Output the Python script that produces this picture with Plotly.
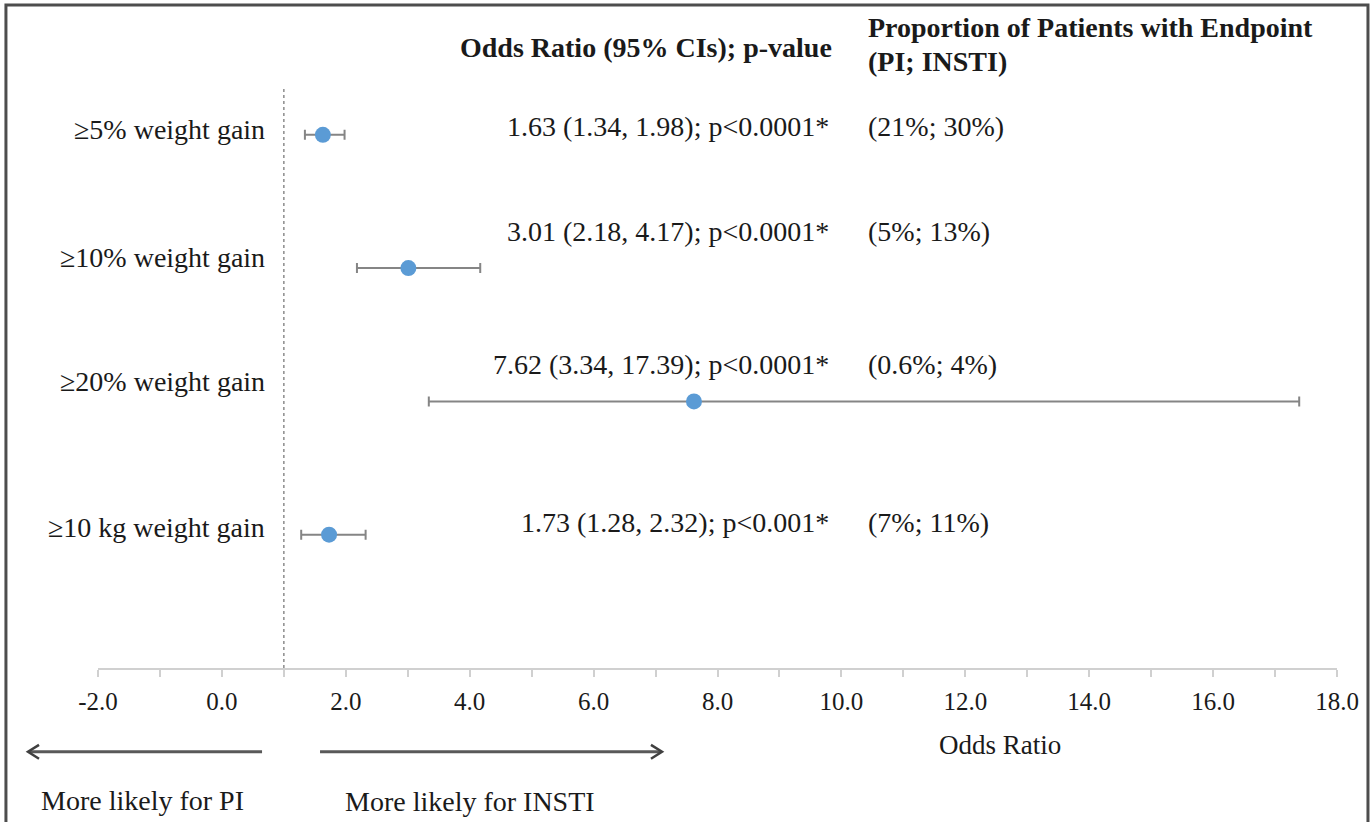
import plotly.graph_objects as go

# data
outcomes = ["≥5% weight gain", "≥10% weight gain", "≥20% weight gain", "≥10 kg weight gain"]
odds_ratio = [1.63, 3.01, 7.62, 1.73]
ci_low = [1.34, 2.18, 3.34, 1.28]
ci_high = [1.98, 4.17, 17.39, 2.32]
p_text = ["p<0.0001*", "p<0.0001*", "p<0.0001*", "p<0.001*"]
prop_pi = ["21%", "5%", "0.6%", "7%"]
prop_insti = ["30%", "13%", "4%", "11%"]
x_ticks = [-2, 0, 2, 4, 6, 8, 10, 12, 14, 16, 18]

FONT = "Liberation Serif"
TXT = "#1a1a1a"
FS = 28

rows = list(range(len(outcomes), 0, -1))  # top row first
label_shift = [5, 11, 20, 7]
text_shift = [8, 37, 37, 12]

fig = go.Figure()
fig.add_trace(go.Scatter(
    x=odds_ratio, y=rows, mode="markers",
    marker=dict(size=16, color="#5b9bd5"),
    error_x=dict(type="data", symmetric=False,
                 array=[h - o for h, o in zip(ci_high, odds_ratio)],
                 arrayminus=[o - l for o, l in zip(odds_ratio, ci_low)],
                 color="#858585", thickness=2, width=5),
    showlegend=False, hoverinfo="skip",
))

ann = []
for i, r in enumerate(rows):
    # category label on the left
    ann.append(dict(x=0.1364, y=r, xref="paper", yref="y", yshift=label_shift[i],
                    text=outcomes[i], showarrow=False, xanchor="right",
                    font=dict(size=FS)))
    ann.append(dict(x=0.5916, y=r, xref="paper", yref="y", yshift=text_shift[i],
                    text=f"{odds_ratio[i]:.2f} ({ci_low[i]:.2f}, {ci_high[i]:.2f}); {p_text[i]}",
                    showarrow=False, xanchor="right", font=dict(size=FS)))
    ann.append(dict(x=0.6199, y=r, xref="paper", yref="y", yshift=text_shift[i],
                    text=f"({prop_pi[i]}; {prop_insti[i]})",
                    showarrow=False, xanchor="left", font=dict(size=FS)))

# column headers
ann.append(dict(x=0.594, y=1.067, xref="paper", yref="paper", text="<b>Odds Ratio (95% CIs); p-value</b>",
                showarrow=False, xanchor="right", yanchor="middle", font=dict(size=FS)))
ann.append(dict(x=0.6199, y=1.101, xref="paper", yref="paper",
                text="<b>Proportion of Patients with Endpoint</b>",
                showarrow=False, xanchor="left", yanchor="middle", font=dict(size=FS)))
ann.append(dict(x=0.6199, y=1.042, xref="paper", yref="paper", text="<b>(PI; INSTI)</b>",
                showarrow=False, xanchor="left", yanchor="middle", font=dict(size=FS)))

# axis title and direction labels
ann.append(dict(x=0.728, y=-0.132, xref="paper", yref="paper", text="Odds Ratio",
                showarrow=False, xanchor="center", yanchor="middle", font=dict(size=27)))
ann.append(dict(x=0.0363, y=-0.227, xref="paper", yref="paper", text="More likely for PI",
                showarrow=False, xanchor="center", yanchor="middle", font=dict(size=FS)))
ann.append(dict(x=0.3003, y=-0.23, xref="paper", yref="paper", text="More likely for INSTI",
                showarrow=False, xanchor="center", yanchor="middle", font=dict(size=FS)))

shapes = [
    # reference line at OR = 1
    dict(type="line", xref="x", yref="paper", x0=1, x1=1, y0=0, y1=1,
         line=dict(color="#8c8c8c", width=1.5, dash="dot")),
    # arrows
    dict(type="line", xref="paper", yref="paper", x0=0.1324, x1=-0.0555, y0=-0.144, y1=-0.144,
         line=dict(color="#595959", width=3)),
    dict(type="path", xref="paper", yref="paper",
         path="M -0.0476,-0.132 L -0.0565,-0.144 L -0.0476,-0.156",
         line=dict(color="#404040", width=2.5)),
    dict(type="line", xref="paper", yref="paper", x0=0.1792, x1=0.4542, y0=-0.144, y1=-0.144,
         line=dict(color="#595959", width=3)),
    dict(type="path", xref="paper", yref="paper",
         path="M 0.4463,-0.132 L 0.4552,-0.144 L 0.4463,-0.156",
         line=dict(color="#404040", width=2.5)),
    # frame round the picture
    dict(type="path", xref="paper", yref="paper",
         path="M -0.0743,-0.27 L -0.0743,1.139 L 1.025,1.139 L 1.025,-0.27",
         line=dict(color="#4d4d4d", width=3)),
]

fig.update_layout(
    width=1371, height=822,
    margin=dict(l=98, r=34, t=86, b=154, autoexpand=False),
    paper_bgcolor="white", plot_bgcolor="white",
    font=dict(family=FONT, color=TXT, size=FS),
    annotations=ann, shapes=shapes,
    xaxis=dict(range=[-2, 18], tickvals=x_ticks, ticktext=[f"{v:.1f}" for v in x_ticks],
               showgrid=False, zeroline=False, showline=True, linecolor="#d0d0d0", linewidth=1.5,
               ticks="outside", ticklen=7, tickcolor="#d0d0d0", tickwidth=1.5,
               minor=dict(dtick=1, tick0=-2, ticks="outside", ticklen=7, tickcolor="#d0d0d0"),
               tickfont=dict(size=25, color=TXT), ticklabelstandoff=3, automargin=False),
    yaxis=dict(range=[0, 4.366], visible=False, showgrid=False, zeroline=False),
)

fig.write_html("out.html", config={"displayModeBar": False},
               post_script="document.body.style.margin='0';document.body.style.overflow='hidden';")
